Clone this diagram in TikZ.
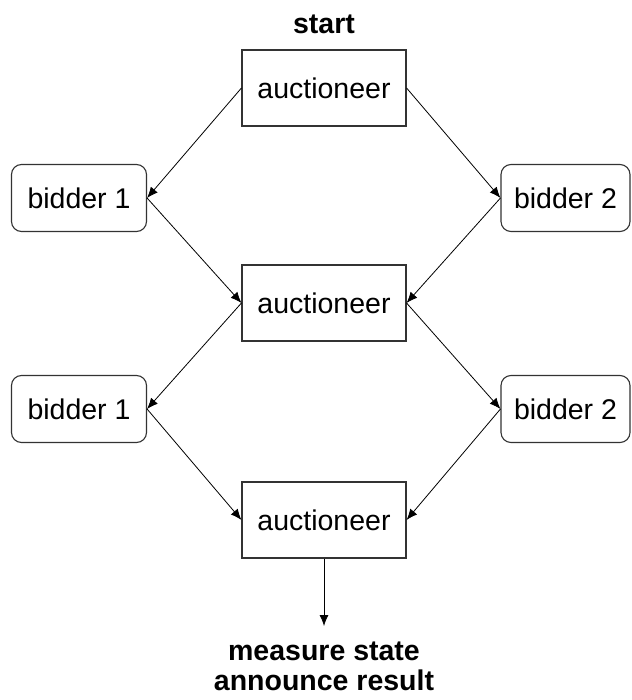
\documentclass[tikz,border=0pt]{standalone}
\usepackage{fontspec}
\setmainfont{Liberation Sans}
\usetikzlibrary{arrows.meta}
\begin{document}
\begin{tikzpicture}[x=1pt,y=-1pt,
  auct/.style={draw=black!80,line width=1.1pt,minimum width=164pt,minimum height=76pt,inner sep=0pt,font=\fontsize{28.5}{34}\selectfont},
  bid/.style={draw=black!80,line width=1.1pt,rounded corners=10pt,minimum width=135pt,minimum height=67pt,inner sep=0pt,font=\fontsize{28.5}{34}\selectfont},
  lbl/.style={font=\fontsize{28.5}{30}\selectfont\bfseries,align=center,inner sep=0pt},
  arr/.style={-{Latex[length=11pt,width=9pt]},line width=0.8pt}]
\useasboundingbox (0,0) rectangle (631,700);
\node[lbl] (start) at (324,24) {start};
\node[auct] (a1) at (324,88) {auctioneer};
\node[bid] (b1a) at (79,198) {bidder 1};
\node[bid,minimum width=129pt] (b2a) at (565.5,198) {bidder 2};
\node[auct] (a2) at (324,303) {auctioneer};
\node[bid] (b1b) at (79,409) {bidder 1};
\node[bid,minimum width=129pt] (b2b) at (565.5,409) {bidder 2};
\node[auct] (a3) at (324,520) {auctioneer};
\coordinate (end) at (324,626);
\node[lbl,anchor=north] (res) at (324,642) {measure state\\announce result};
\draw[arr] (a1.west) -- (b1a.east);
\draw[arr] (a1.east) -- (b2a.west);
\draw[arr] (b1a.east) -- (a2.west);
\draw[arr] (b2a.west) -- (a2.east);
\draw[arr] (a2.west) -- (b1b.east);
\draw[arr] (a2.east) -- (b2b.west);
\draw[arr] (b1b.east) -- (a3.west);
\draw[arr] (b2b.west) -- (a3.east);
\draw[arr] (a3.south) -- (end);
\end{tikzpicture}
\end{document}
